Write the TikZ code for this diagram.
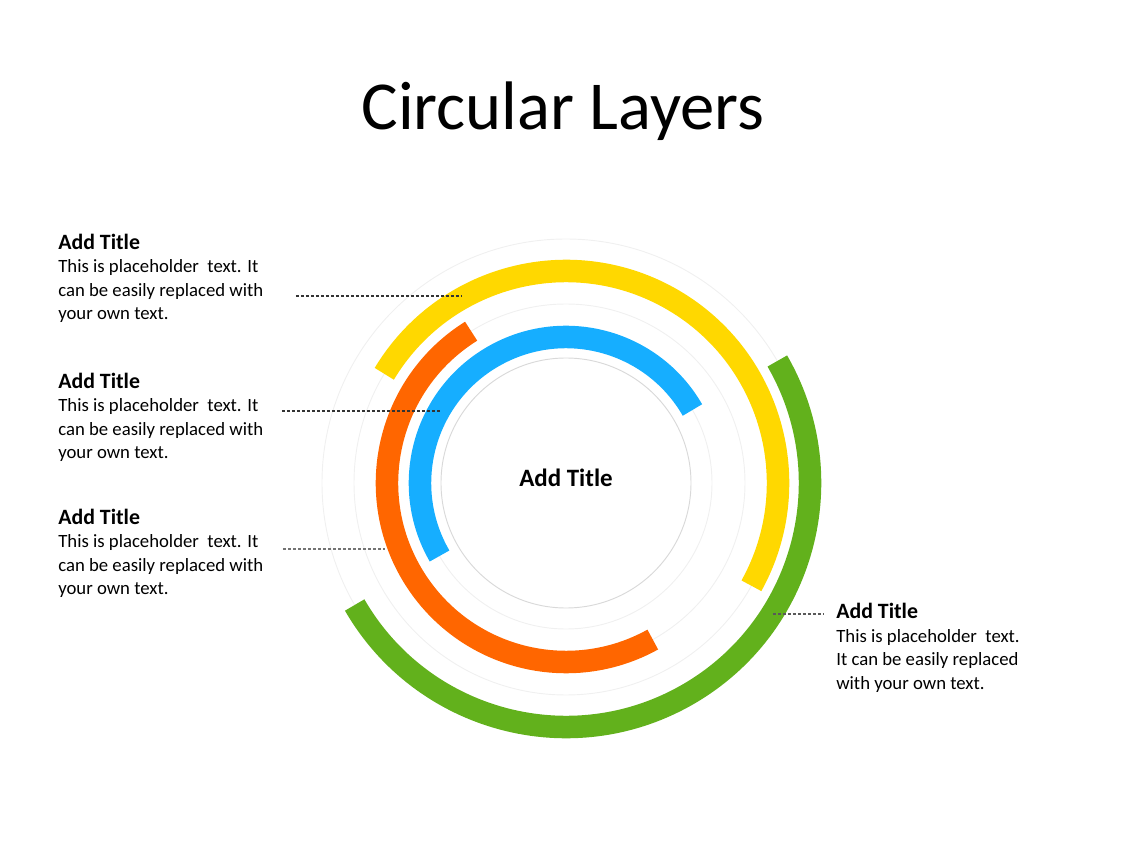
\documentclass[tikz,border=0pt]{standalone}
\usepackage{fontspec}
\setmainfont{Carlito}
\usepackage{tikz}
\usetikzlibrary{positioning, calc}
\definecolor{ringyellow}{RGB}{255,216,0}
\definecolor{ringorange}{RGB}{255,102,0}
\definecolor{ringblue}{RGB}{22,174,255}
\definecolor{ringgreen}{RGB}{98,177,28}
\pgfdeclareradialshading{discshade}{\pgfpoint{0bp}{-3bp}}{color(0bp)=(white); color(28bp)=(white); color(50bp)=(black!13)}

\begin{document}
\begin{tikzpicture}[x=0.2252mm, y=0.2252mm,
    ring/.style={line width=5.07mm},
    track/.style={draw=black!6, line width=0.6pt},
    leader/.style={dash pattern=on 2pt off 1.2pt, line width=0.7pt, black!80},
    note/.style={anchor=base west, align=left, inner sep=0pt, font=\fontsize{12}{15}\selectfont}]

    \useasboundingbox (-566,-363) rectangle (562,483);

    % faint tracks behind the rings
    \foreach \r in {146,179,212,244}
        \draw[track] (0,0) circle[radius=\r];

    % centre disc
    \shade[shading=discshade] (0,0) circle[radius=125];
    \draw[black!15, line width=0.6pt] (0,0) circle[radius=125];
    \node[font=\fontsize{16}{19}\selectfont\bfseries] (centre) at (0,5) {Add Title};

    % rings
    \draw[ring, ringyellow] (-29:212) arc[start angle=-29, end angle=149, radius=212];
    \draw[ring, ringorange] (122:179) arc[start angle=122, end angle=299, radius=179];
    \draw[ring, ringblue] (30:146) arc[start angle=30, end angle=210, radius=146];
    \draw[ring, ringgreen] (210:244) arc[start angle=210, end angle=390, radius=244];

    % title
    \node[font=\fontsize{44}{50}\selectfont, anchor=base] (title) at (-3,353) {Circular Layers};

    % notes (anchored at the last line)
    \node[note] (note1) at (-508,163.5) {{\fontsize{14}{15}\selectfont\bfseries Add Title}\\This is placeholder\ \ text. It\\can be easily replaced with\\your own text.};
    \node[note] (note2) at (-508,24.5) {{\fontsize{14}{15}\selectfont\bfseries Add Title}\\This is placeholder\ \ text. It\\can be easily replaced with\\your own text.};
    \node[note] (note3) at (-508,-111.5) {{\fontsize{14}{15}\selectfont\bfseries Add Title}\\This is placeholder\ \ text. It\\can be easily replaced with\\your own text.};
    \node[note] (note4) at (270,-206) {{\fontsize{14}{15}\selectfont\bfseries Add Title}\\This is placeholder\ \ text.\\It can be easily replaced\\with your own text.};

    % leader lines
    \coordinate (lead1) at (-270,187);
    \coordinate (hit1) at (-105,187);
    \coordinate (lead2) at (-284,72);
    \coordinate (hit2) at (-125,72);
    \coordinate (lead3) at (-283,-66);
    \coordinate (hit3) at (-181,-66);
    \coordinate (hit4) at (207,-131);
    \coordinate (lead4) at (257,-131);
    \draw[leader] (lead1) -- (hit1);
    \draw[leader] (lead2) -- (hit2);
    \draw[leader, black!55] (lead3) -- (hit3);
    \draw[leader, black!65] (hit4) -- (lead4);
\end{tikzpicture}
\end{document}
